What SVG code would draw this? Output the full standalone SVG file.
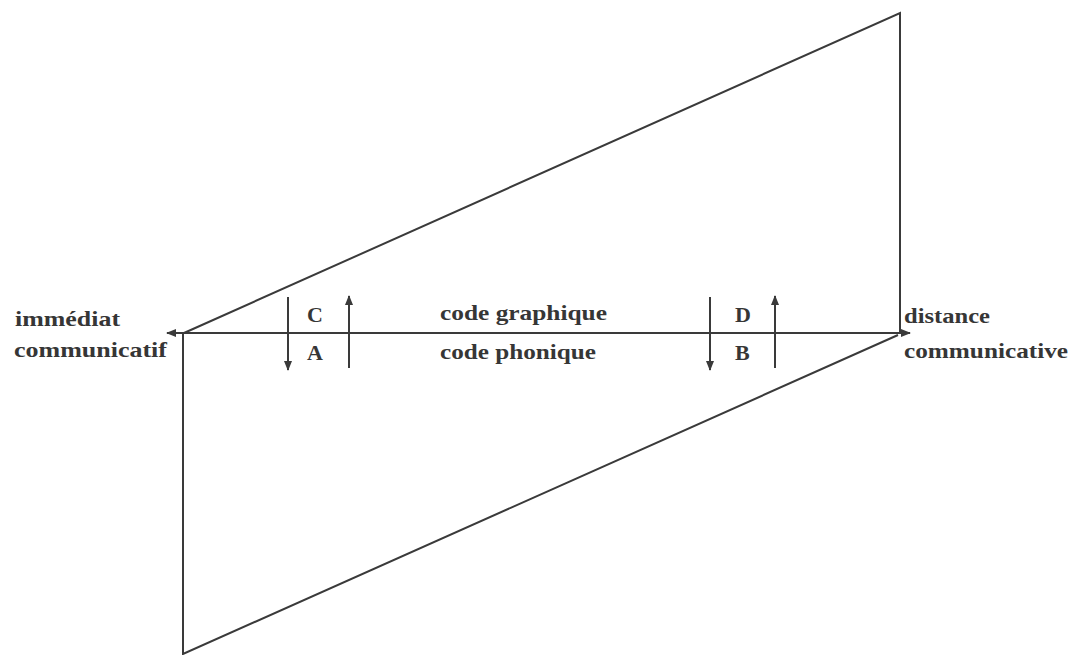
<svg xmlns="http://www.w3.org/2000/svg" width="1072" height="655" viewBox="0 0 1072 655">
<style>
.ln{stroke:#3a3a3a;stroke-width:2;fill:none}
.t{font-family:"Liberation Serif","Times New Roman",serif;font-weight:bold;font-size:22px;fill:#363636}
</style>
<defs>
<marker id="ah" viewBox="0 0 10 10" refX="9" refY="5" markerWidth="10" markerHeight="10" markerUnits="userSpaceOnUse" orient="auto">
<path d="M0,1 L10,5 L0,9 Z" fill="#3a3a3a"/>
</marker>
</defs>
<rect width="1072" height="655" fill="#ffffff"/>
<g id="connectors">
<polyline class="ln" points="184,333 900,13 900,333"/>
<polyline class="ln" points="183,333 183,654 898,335"/>
<line class="ln" x1="540" y1="333" x2="167" y2="333" marker-end="url(#ah)"/>
<line class="ln" x1="540" y1="333" x2="910" y2="333" marker-end="url(#ah)"/>
<line class="ln" x1="288" y1="297" x2="288" y2="370" marker-end="url(#ah)"/>
<line class="ln" x1="349" y1="368" x2="349" y2="296" marker-end="url(#ah)"/>
<line class="ln" x1="710" y1="297" x2="710" y2="370" marker-end="url(#ah)"/>
<line class="ln" x1="775" y1="368" x2="775" y2="296" marker-end="url(#ah)"/>
</g>
<g id="node-immediat">
<text class="t" x="15" y="326" textLength="105" lengthAdjust="spacingAndGlyphs">immédiat</text>
<text class="t" x="14" y="357" textLength="153" lengthAdjust="spacingAndGlyphs">communicatif</text>
</g>
<g id="node-distance">
<text class="t" x="904" y="323" textLength="86" lengthAdjust="spacingAndGlyphs">distance</text>
<text class="t" x="904" y="358" textLength="164" lengthAdjust="spacingAndGlyphs">communicative</text>
</g>
<g id="node-codes">
<text class="t" x="440" y="320" textLength="167" lengthAdjust="spacingAndGlyphs">code graphique</text>
<text class="t" x="440" y="359" textLength="156" lengthAdjust="spacingAndGlyphs">code phonique</text>
</g>
<g id="node-letters">
<text class="t" x="307" y="322">C</text>
<text class="t" x="307" y="360">A</text>
<text class="t" x="735" y="322">D</text>
<text class="t" x="735" y="360">B</text>
</g>
</svg>
